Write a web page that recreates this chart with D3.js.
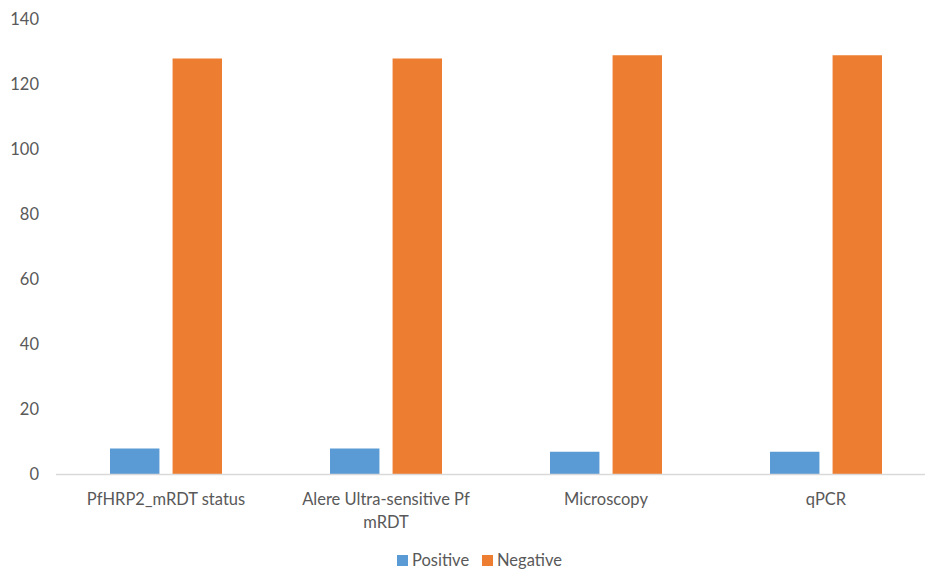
<!DOCTYPE html>
<html>
<head>
<meta charset="utf-8">
<script src="https://cdn.jsdelivr.net/npm/d3@7"></script>
<style>
  html, body { margin: 0; padding: 0; background: #fff; }
  svg { display: block; }
  text { font-family: Lato, "Open Sans", "Liberation Sans", sans-serif; fill: #595959; }
</style>
</head>
<body>
<svg id="chart" width="925" height="570"></svg>
<script>
// Test results by diagnostic method
const categories = ["PfHRP2_mRDT status", "Alere Ultra-sensitive Pf mRDT", "Microscopy", "qPCR"];
const seriesNames = ["Positive", "Negative"];
const positive = [8, 8, 7, 7];
const negative = [128, 128, 129, 129];
const yTicks = [0, 20, 40, 60, 80, 100, 120, 140];
const colors = ["#5B9BD5", "#ED7D31"];

const series = [positive, negative];
const svg = d3.select("#chart");

const x0 = d3.scaleBand().domain(categories).range([56, 936]).paddingInner(0).paddingOuter(0);
const x1 = d3.scaleBand().domain(seriesNames).range([54, 166]).paddingInner(0.21).paddingOuter(0);
const y = d3.scaleLinear().domain([0, 140]).range([474.5, 19.5]);

// Y axis labels (no axis line, no gridlines)
const yAxis = d3.axisLeft(y).tickValues(yTicks).tickSize(0).tickPadding(0);
const yg = svg.append("g").attr("transform", "translate(39,0)").call(yAxis);
yg.select(".domain").remove();
yg.selectAll("text").attr("font-size", 16.5).style("fill", "#595959")
  .style("font-family", "Lato, 'Open Sans', sans-serif");

// Bars
categories.forEach((c, i) => {
  seriesNames.forEach((s, j) => {
    const v = series[j][i];
    svg.append("rect")
      .attr("x", x0(c) + x1(s))
      .attr("y", y(v))
      .attr("width", x1.bandwidth())
      .attr("height", y(0) - y(v))
      .attr("fill", colors[j]);
  });
});

// Category axis line
svg.append("line")
  .attr("x1", 56).attr("x2", 925)
  .attr("y1", y(0)).attr("y2", y(0))
  .attr("stroke", "#d9d9d9").attr("stroke-width", 1.3);

// Category labels, wrapped to the band width
const xg = svg.append("g");
categories.forEach(c => {
  const cx = x0(c) + x0.bandwidth() / 2;
  const t = xg.append("text")
    .attr("x", cx)
    .attr("y", 505)
    .attr("text-anchor", "middle")
    .attr("font-size", 16.5);
  const words = c.split(" ");
  let line = [];
  let ts = t.append("tspan").attr("x", cx).attr("dy", 0);
  words.forEach(w => {
    line.push(w);
    ts.text(line.join(" "));
    if (ts.node().getComputedTextLength() > 200 && line.length > 1) {
      line.pop();
      ts.text(line.join(" "));
      line = [w];
      ts = t.append("tspan").attr("x", cx).attr("dy", 23).text(w);
    }
  });
});

// Legend
const legend = svg.append("g");
const legendX = [397, 482];
seriesNames.forEach((s, j) => {
  legend.append("rect")
    .attr("x", legendX[j]).attr("y", 555)
    .attr("width", 11).attr("height", 11)
    .attr("fill", colors[j]);
  legend.append("text")
    .attr("x", legendX[j] + 15).attr("y", 566)
    .attr("font-size", 16.5)
    .text(s);
});
</script>
</body>
</html>
